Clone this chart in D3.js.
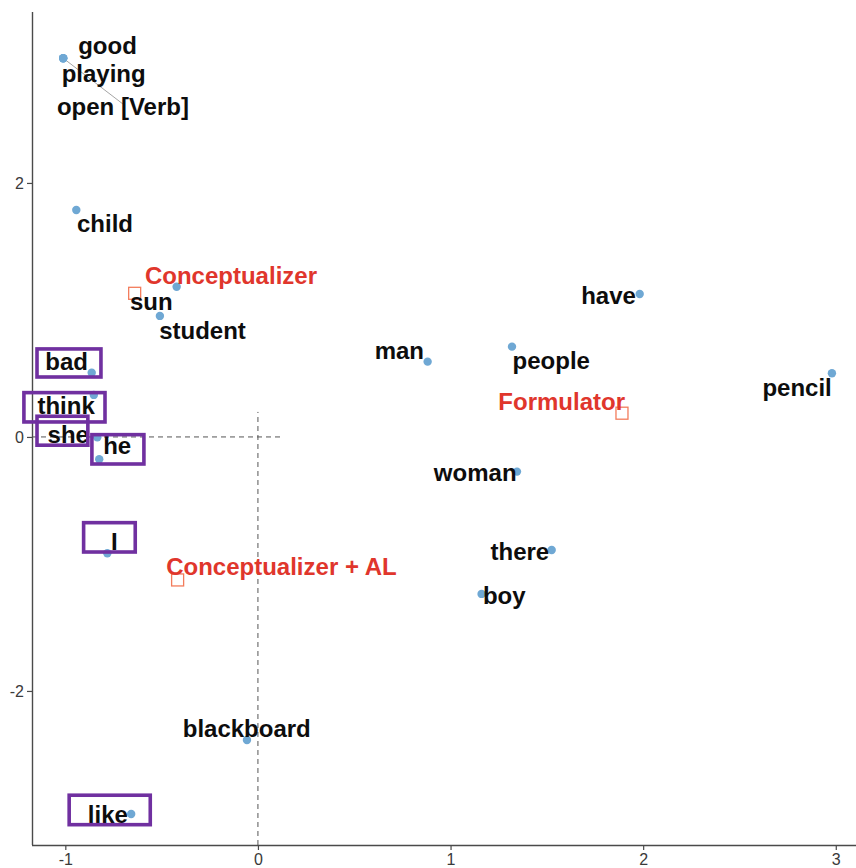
<!DOCTYPE html>
<html>
<head>
<meta charset="utf-8">
<script src="https://cdn.jsdelivr.net/npm/d3@7"></script>
<style>
  html, body { margin: 0; padding: 0; background: #fff; }
  svg text { font-family: "Liberation Sans", Arial, sans-serif; }
</style>
</head>
<body>
<svg id="chart" width="856" height="868"></svg>
<script>
// Word coordinates in the two-dimensional space
const words  = ["good", "playing", "open [Verb]", "child", "sun", "student", "bad", "think", "she", "he", "I",
                "blackboard", "like", "have", "man", "people", "pencil", "woman", "there", "boy"];
const wordX  = [-1.011, -1.011, -1.011, -0.943, -0.422, -0.509, -0.863, -0.852, -0.834, -0.824, -0.782,
                -0.057, -0.658, 1.982, 0.881, 1.319, 2.980, 1.345, 1.525, 1.161];
const wordY  = [2.982, 2.982, 2.982, 1.787, 1.183, 0.953, 0.506, 0.331, -0.002, -0.176, -0.916,
                -2.386, -2.969, 1.126, 0.593, 0.711, 0.501, -0.273, -0.890, -1.236];
// Repelled label anchors for the words
const wordLabelX = [-0.781, -0.801, -0.701, -0.794, -0.554, -0.288, -0.993, -0.996, -0.985, -0.731, -0.745,
                    -0.058, -0.779, 1.820, 0.734, 1.523, 2.799, 1.128, 1.360, 1.279];
const wordLabelY = [3.084, 2.861, 2.598, 1.680, 1.063, 0.840, 0.591, 0.244, 0.018, -0.071, -0.827,
                    -2.297, -2.974, 1.116, 0.683, 0.604, 0.386, -0.281, -0.900, -1.252];
// Words whose label is joined to its point by a leader segment
const leaderWords = ["open [Verb]"];

// Model components (supplementary points)
const components = ["Conceptualizer", "Formulator", "Conceptualizer + AL"];
const compX = [-0.640, 1.890, -0.417];
const compY = [1.131, 0.187, -1.126];
const compLabelX = [-0.140, 1.577, 0.122];
const compLabelY = [1.273, 0.276, -1.024];

// Highlighted words: rectangles in data units [xmin, xmax, ymin, ymax]
const highlightWords = ["bad", "think", "she", "he", "I", "like"];
const highlightRects = [
  [-1.147, -0.815, 0.472, 0.693],
  [-1.215, -0.794, 0.118, 0.349],
  [-1.147, -0.883, -0.065, 0.163],
  [-0.862, -0.592, -0.213, 0.018],
  [-0.905, -0.637, -0.906, -0.675],
  [-0.980, -0.559, -3.053, -2.821]
];

// Axis ticks and domains
const xTicks = [-1, 0, 1, 2, 3];
const yTicks = [-2, 0, 2];
const xDomain = [-1.173, 3.105];
const yDomain = [-3.213, 3.346];
// Reference cross: dashed guides through the origin
const hGuide = { y: 0, x0: -1.173, x1: 0.125 };
const vGuide = { x: 0, y0: -3.213, y1: 0.197 };

const svg = d3.select("#chart");
const plotLeft = 32, plotRight = 856, plotTop = 12, plotBottom = 845;

const x = d3.scaleLinear().domain(xDomain).range([plotLeft, plotRight]);
const y = d3.scaleLinear().domain(yDomain).range([plotBottom, plotTop]);

const FS = 24;
const baseShift = FS * 0.35;

// Dashed guides
svg.append("line")
  .attr("x1", x(hGuide.x0)).attr("x2", x(hGuide.x1))
  .attr("y1", y(hGuide.y)).attr("y2", y(hGuide.y))
  .attr("stroke", "#555").attr("stroke-width", 1).attr("stroke-dasharray", "5,4");
svg.append("line")
  .attr("x1", x(vGuide.x)).attr("x2", x(vGuide.x))
  .attr("y1", y(vGuide.y0)).attr("y2", y(vGuide.y1))
  .attr("stroke", "#555").attr("stroke-width", 1).attr("stroke-dasharray", "5,4");

// Axes (hyphen-minus tick labels)
const fmt = d => String(d);
const xAxis = d3.axisBottom(x).tickValues(xTicks).tickSize(5).tickSizeOuter(0).tickFormat(fmt);
const yAxis = d3.axisLeft(y).tickValues(yTicks).tickSize(5).tickSizeOuter(0).tickFormat(fmt);

const gx = svg.append("g").attr("transform", `translate(0,${plotBottom})`).call(xAxis);
const gy = svg.append("g").attr("transform", `translate(${plotLeft},0)`).call(yAxis);
[gx, gy].forEach(g => {
  g.select(".domain").attr("stroke", "#4a4a4a").attr("stroke-width", 1.4);
  g.selectAll(".tick line").attr("stroke", "#4a4a4a").attr("stroke-width", 1.2);
  g.selectAll(".tick text").attr("fill", "#3a3a3a").style("font-size", "16px")
    .style("font-family", "Liberation Sans, Arial, sans-serif");
});
gx.selectAll(".tick text").attr("dy", "0.71em").attr("y", 9);
gy.selectAll(".tick text").attr("x", -8);
gx.select(".domain").attr("d", `M${plotLeft},0.5H${plotRight}`);
gy.select(".domain").attr("d", `M0.5,${plotTop}V${plotBottom}`);

const wordData = words.map((w, i) => ({
  w, px: wordX[i], py: wordY[i], lx: wordLabelX[i], ly: wordLabelY[i]
}));
const compData = components.map((c, i) => ({
  c, px: compX[i], py: compY[i], lx: compLabelX[i], ly: compLabelY[i]
}));

// Leader segments
svg.append("g").selectAll("line")
  .data(wordData.filter(d => leaderWords.includes(d.w)))
  .join("line")
  .attr("x1", d => x(d.px)).attr("y1", d => y(d.py))
  .attr("x2", d => x(d.lx)).attr("y2", d => y(d.ly) - 3)
  .attr("stroke", "#9a9a9a").attr("stroke-width", 0.9);

// Word points
svg.append("g").selectAll("circle")
  .data(wordData)
  .join("circle")
  .attr("cx", d => x(d.px)).attr("cy", d => y(d.py))
  .attr("r", 4.2)
  .attr("fill", "#6fa8d4");

// Component markers (open squares)
const sq = 12;
svg.append("g").selectAll("rect")
  .data(compData)
  .join("rect")
  .attr("x", d => x(d.px) - sq / 2).attr("y", d => y(d.py) - sq / 2)
  .attr("width", sq).attr("height", sq)
  .attr("fill", "none").attr("stroke", "#f37c5c").attr("stroke-width", 1.3);

// Word labels
svg.append("g").selectAll("text")
  .data(wordData)
  .join("text")
  .attr("x", d => x(d.lx)).attr("y", d => y(d.ly) + baseShift)
  .attr("text-anchor", "middle")
  .style("font-size", FS + "px").style("font-weight", "bold")
  .attr("fill", "#0d0d0d")
  .text(d => d.w);

// Component labels
svg.append("g").selectAll("text")
  .data(compData)
  .join("text")
  .attr("x", d => x(d.lx)).attr("y", d => y(d.ly) + baseShift)
  .attr("text-anchor", "middle")
  .style("font-size", FS + "px").style("font-weight", "bold")
  .attr("fill", "#e0362c")
  .text(d => d.c);

// Highlight rectangles around selected words
svg.append("g").selectAll("rect")
  .data(highlightRects)
  .join("rect")
  .attr("x", d => x(d[0])).attr("y", d => y(d[3]))
  .attr("width", d => x(d[1]) - x(d[0])).attr("height", d => y(d[2]) - y(d[3]))
  .attr("fill", "none").attr("stroke", "#7030a0").attr("stroke-width", 3.6);
</script>
</body>
</html>
